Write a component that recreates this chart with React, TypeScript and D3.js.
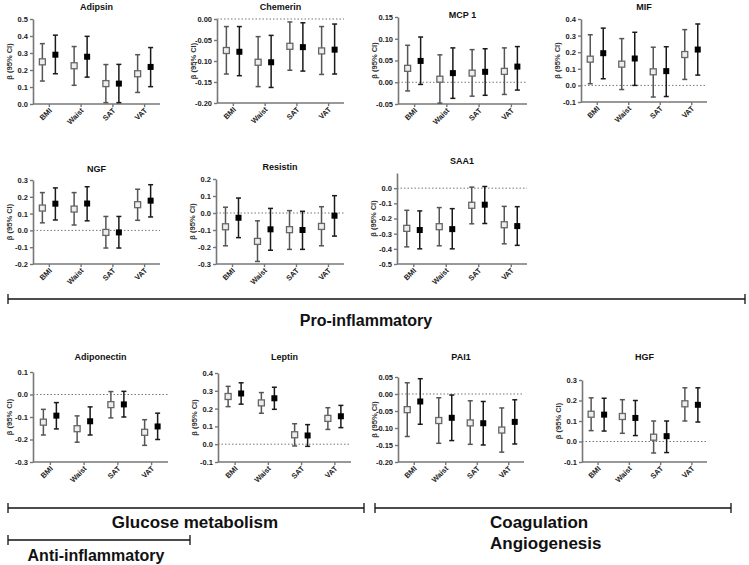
import React, { useEffect, useRef } from "react";
import * as d3 from "d3";

const categories = ["BMI", "Waist", "SAT", "VAT"];

// [estimate, lower, upper] per category; open = first model, filled = adjusted model
const adipsinOpen = [[0.248, 0.135, 0.355], [0.225, 0.11, 0.338], [0.12, 0.008, 0.232], [0.178, 0.068, 0.29]];
const adipsinFilled = [[0.29, 0.178, 0.405], [0.278, 0.158, 0.398], [0.12, 0.008, 0.233], [0.218, 0.102, 0.332]];
const chemerinOpen = [[-0.075, -0.131, -0.018], [-0.103, -0.161, -0.042], [-0.065, -0.122, -0.007], [-0.076, -0.132, -0.018]];
const chemerinFilled = [[-0.078, -0.135, -0.018], [-0.103, -0.163, -0.039], [-0.067, -0.124, -0.009], [-0.073, -0.131, -0.012]];
const mcp1Open = [[0.032, -0.02, 0.085], [0.007, -0.048, 0.063], [0.021, -0.032, 0.075], [0.025, -0.028, 0.079]];
const mcp1Filled = [[0.049, -0.005, 0.104], [0.021, -0.037, 0.079], [0.024, -0.03, 0.077], [0.036, -0.018, 0.082]];
const mifOpen = [[0.158, 0.01, 0.305], [0.128, -0.025, 0.282], [0.082, -0.07, 0.23], [0.186, 0.036, 0.336]];
const mifFilled = [[0.194, 0.04, 0.345], [0.162, 0.0, 0.32], [0.086, -0.067, 0.233], [0.216, 0.062, 0.37]];
const ngfOpen = [[0.133, 0.045, 0.225], [0.127, 0.032, 0.225], [-0.012, -0.105, 0.083], [0.153, 0.06, 0.245]];
const ngfFilled = [[0.159, 0.062, 0.253], [0.16, 0.057, 0.26], [-0.012, -0.105, 0.083], [0.177, 0.08, 0.272]];
const resistinOpen = [[-0.081, -0.193, 0.034], [-0.167, -0.285, -0.046], [-0.098, -0.214, 0.014], [-0.079, -0.193, 0.037]];
const resistinFilled = [[-0.028, -0.145, 0.088], [-0.096, -0.219, 0.027], [-0.1, -0.214, 0.01], [-0.016, -0.136, 0.102]];
const saa1Open = [[-0.265, -0.387, -0.146], [-0.254, -0.38, -0.128], [-0.113, -0.235, 0.007], [-0.241, -0.367, -0.12]];
const saa1Filled = [[-0.276, -0.4, -0.15], [-0.27, -0.4, -0.135], [-0.109, -0.233, 0.011], [-0.25, -0.377, -0.122]];
const adiponectinOpen = [[-0.123, -0.18, -0.066], [-0.152, -0.212, -0.095], [-0.045, -0.104, 0.013], [-0.168, -0.226, -0.112]];
const adiponectinFilled = [[-0.094, -0.153, -0.036], [-0.119, -0.18, -0.055], [-0.044, -0.1, 0.014], [-0.142, -0.2, -0.083]];
const leptinOpen = [[0.268, 0.211, 0.325], [0.232, 0.174, 0.29], [0.053, -0.01, 0.115], [0.145, 0.083, 0.205]];
const leptinFilled = [[0.285, 0.225, 0.345], [0.258, 0.196, 0.32], [0.049, -0.012, 0.11], [0.157, 0.093, 0.218]];
const pai1Open = [[-0.046, -0.125, 0.033], [-0.078, -0.145, -0.011], [-0.085, -0.148, -0.02], [-0.106, -0.171, -0.041]];
const pai1Filled = [[-0.022, -0.089, 0.045], [-0.07, -0.137, -0.003], [-0.086, -0.15, -0.022], [-0.082, -0.147, -0.017]];
const hgfOpen = [[0.133, 0.053, 0.213], [0.122, 0.04, 0.204], [0.021, -0.056, 0.1], [0.184, 0.1, 0.262]];
const hgfFilled = [[0.131, 0.051, 0.211], [0.115, 0.029, 0.2], [0.026, -0.054, 0.1], [0.179, 0.095, 0.262]];

const groupLabels = ["Pro-inflammatory", "Glucose metabolism", "Anti-inflammatory", "Coagulation", "Angiogenesis"];

const FONT = "'Liberation Sans', Arial, sans-serif";

const panels = [
  { title: "Adipsin", open: adipsinOpen, filled: adipsinFilled, domain: [0, 0.5], ticks: [0, 0.1, 0.2, 0.3, 0.4, 0.5], fmt: ".1f", x0: 33, x1: 160, top: 19, bottom: 104, titleY: 7 },
  { title: "Chemerin", open: chemerinOpen, filled: chemerinFilled, domain: [-0.2, 0], ticks: [-0.2, -0.15, -0.1, -0.05, 0], fmt: ".2f", x0: 217, x1: 344, top: 19, bottom: 103, titleY: 7 },
  { title: "MCP 1", open: mcp1Open, filled: mcp1Filled, domain: [-0.05, 0.15], ticks: [-0.05, 0, 0.05, 0.1, 0.15], fmt: ".2f", x0: 398, x1: 527, top: 17, bottom: 104, titleY: 15 },
  { title: "MIF", open: mifOpen, filled: mifFilled, domain: [-0.1, 0.4], ticks: [-0.1, 0, 0.1, 0.2, 0.3, 0.4], fmt: ".1f", x0: 581, x1: 707, top: 19, bottom: 102, titleY: 7 },
  { title: "NGF", open: ngfOpen, filled: ngfFilled, domain: [-0.2, 0.3], ticks: [-0.2, -0.1, 0, 0.1, 0.2, 0.3], fmt: ".1f", x0: 33, x1: 160, top: 180, bottom: 264, titleY: 169 },
  { title: "Resistin", open: resistinOpen, filled: resistinFilled, domain: [-0.3, 0.2], ticks: [-0.3, -0.2, -0.1, 0, 0.1, 0.2], fmt: ".1f", x0: 216, x1: 344, top: 179, bottom: 264, titleY: 167 },
  { title: "SAA1", open: saa1Open, filled: saa1Filled, domain: [-0.5, 0.1], ticks: [-0.5, -0.4, -0.3, -0.2, -0.1, 0], fmt: ".1f", x0: 397, x1: 527, top: 173, bottom: 264, titleY: 161 },
  { title: "Adiponectin", open: adiponectinOpen, filled: adiponectinFilled, domain: [-0.3, 0.1], ticks: [-0.3, -0.2, -0.1, 0, 0.1], fmt: ".1f", x0: 33, x1: 168, top: 372, bottom: 462, titleY: 357 },
  { title: "Leptin", open: leptinOpen, filled: leptinFilled, domain: [-0.1, 0.4], ticks: [-0.1, 0, 0.1, 0.2, 0.3, 0.4], fmt: ".1f", x0: 218, x1: 351, top: 373, bottom: 462, titleY: 357 },
  { title: "PAI1", open: pai1Open, filled: pai1Filled, domain: [-0.2, 0.05], ticks: [-0.2, -0.15, -0.1, -0.05, 0, 0.05], fmt: ".2f", x0: 398, x1: 524, top: 377, bottom: 462, titleY: 357 },
  { title: "HGF", open: hgfOpen, filled: hgfFilled, domain: [-0.1, 0.3], ticks: [-0.1, 0, 0.1, 0.2, 0.3], fmt: ".1f", x0: 582, x1: 707, top: 380, bottom: 462, titleY: 357 },
];

const App = () => {
  const svgRef = useRef(null);

  useEffect(() => {
    const svg = d3.select(svgRef.current);
    svg.selectAll("*").remove();

    panels.forEach((p) => {
      const g = svg.append("g");
      const x = d3.scalePoint().domain(categories).range([p.x0, p.x1]).padding(0.5);
      const y = d3.scaleLinear().domain(p.domain).range([p.bottom, p.top]);
      const fmt = d3.format(p.fmt);

      // zero reference line
      if (p.domain[0] < 0) {
        g.append("line")
          .attr("x1", p.x0).attr("x2", p.x1)
          .attr("y1", y(0)).attr("y2", y(0))
          .attr("stroke", "#777").attr("stroke-width", 1)
          .attr("stroke-dasharray", "1.5,2");
      }

      // y axis
      const yAxis = g.append("g")
        .attr("transform", `translate(${p.x0},0)`)
        .call(d3.axisLeft(y).tickValues(p.ticks).tickSize(3).tickSizeOuter(0).tickFormat((d) => fmt(d).replace("−", "-")));
      yAxis.select(".domain").attr("stroke", "#777").attr("stroke-width", 1.6);
      yAxis.selectAll(".tick line").attr("stroke", "#777").attr("stroke-width", 1.4);
      yAxis.selectAll("text")
        .attr("font-family", FONT).attr("font-size", 7.5).attr("font-weight", "bold").attr("fill", "#222").attr("x", -5);

      // x axis
      const xAxis = g.append("g")
        .attr("transform", `translate(0,${p.bottom})`)
        .call(d3.axisBottom(x).tickSize(3).tickSizeOuter(0));
      xAxis.select(".domain").attr("stroke", "#777").attr("stroke-width", 1.6).attr("d", `M${p.x0},0H${p.x1}`);
      xAxis.selectAll(".tick line").attr("stroke", "#777").attr("stroke-width", 1.4);
      xAxis.selectAll("text")
        .attr("font-family", FONT).attr("font-size", 7.5).attr("font-weight", "bold").attr("fill", "#222")
        .attr("text-anchor", "end").attr("dy", null).attr("y", null)
        .attr("transform", "translate(3,7) rotate(-45)");

      // title
      g.append("text")
        .attr("x", (p.x0 + p.x1) / 2).attr("y", p.titleY)
        .attr("dy", "0.35em").attr("text-anchor", "middle")
        .attr("font-family", FONT).attr("font-size", 9).attr("font-weight", "bold").attr("fill", "#111")
        .text(p.title);

      // y label
      g.append("text")
        .attr("transform", `translate(${p.x0 - 24},${(p.top + p.bottom) / 2}) rotate(-90)`)
        .attr("dy", "0.35em").attr("text-anchor", "middle")
        .attr("font-family", FONT).attr("font-size", 7.5).attr("font-weight", "bold").attr("fill", "#333")
        .text("β (95% CI)");

      const series = [
        { data: p.open, dx: -6.5, stroke: "#555", open: true },
        { data: p.filled, dx: 6.5, stroke: "#1a1a1a", open: false },
      ];

      series.forEach((s) => {
        const sg = g.append("g");
        const pts = sg.selectAll("g.pt").data(s.data).enter().append("g")
          .attr("transform", (d, i) => `translate(${x(categories[i]) + s.dx},0)`);
        pts.append("line")
          .attr("x1", 0).attr("x2", 0)
          .attr("y1", (d) => y(d[1])).attr("y2", (d) => y(d[2]))
          .attr("stroke", s.stroke).attr("stroke-width", 1.5);
        pts.append("line")
          .attr("x1", -2.5).attr("x2", 2.5)
          .attr("y1", (d) => y(d[1])).attr("y2", (d) => y(d[1]))
          .attr("stroke", s.stroke).attr("stroke-width", 1.5);
        pts.append("line")
          .attr("x1", -2.5).attr("x2", 2.5)
          .attr("y1", (d) => y(d[2])).attr("y2", (d) => y(d[2]))
          .attr("stroke", s.stroke).attr("stroke-width", 1.5);
        if (s.open) {
          pts.append("rect")
            .attr("x", -3).attr("y", (d) => y(d[0]) - 3)
            .attr("width", 6).attr("height", 6)
            .attr("fill", "#eee").attr("stroke", "#666").attr("stroke-width", 1.3);
        } else {
          pts.append("rect")
            .attr("x", -3).attr("y", (d) => y(d[0]) - 3)
            .attr("width", 6).attr("height", 6)
            .attr("fill", "#000");
        }
      });
    });

    // group brackets
    const brackets = [
      { x1: 8, x2: 745, y: 299 },
      { x1: 8, x2: 364, y: 508 },
      { x1: 8, x2: 190, y: 540 },
      { x1: 375, x2: 731, y: 508 },
    ];
    brackets.forEach((b) => {
      const bg = svg.append("g").attr("stroke", "#111").attr("stroke-width", 1.3);
      bg.append("line").attr("x1", b.x1).attr("x2", b.x2).attr("y1", b.y).attr("y2", b.y);
      bg.append("line").attr("x1", b.x1).attr("x2", b.x1).attr("y1", b.y - 5).attr("y2", b.y + 5);
      bg.append("line").attr("x1", b.x2).attr("x2", b.x2).attr("y1", b.y - 5).attr("y2", b.y + 5);
    });

    const labels = [
      { text: groupLabels[0], x: 366, y: 326, anchor: "middle", size: 16 },
      { text: groupLabels[1], x: 195, y: 528, anchor: "middle", size: 17 },
      { text: groupLabels[2], x: 96, y: 561, anchor: "middle", size: 16 },
      { text: groupLabels[3], x: 490, y: 528, anchor: "start", size: 17 },
      { text: groupLabels[4], x: 490, y: 549, anchor: "start", size: 17 },
    ];
    labels.forEach((l) => {
      svg.append("text")
        .attr("x", l.x).attr("y", l.y)
        .attr("text-anchor", l.anchor)
        .attr("font-family", FONT).attr("font-size", l.size).attr("font-weight", "bold").attr("fill", "#111")
        .text(l.text);
    });
  }, []);

  return (
    <div style={{ position: "absolute", left: 0, top: 0 }}>
      <svg ref={svgRef} width={749} height={565} style={{ display: "block", background: "#fff" }}></svg>
    </div>
  );
};

export default App;
